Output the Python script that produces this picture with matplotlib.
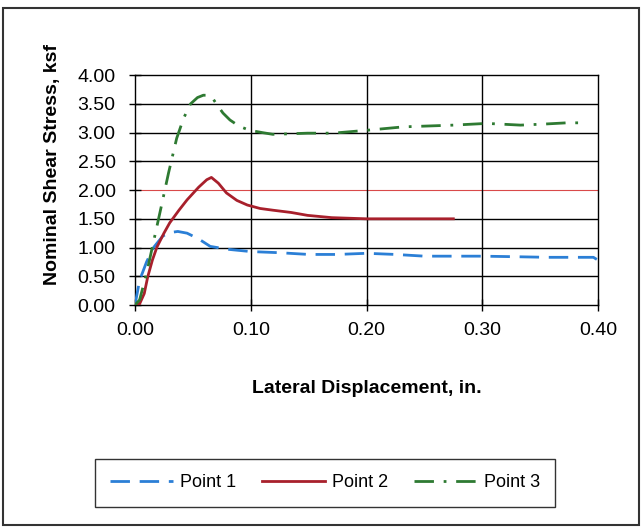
import numpy as np
import matplotlib
matplotlib.use("Agg")
import matplotlib.pyplot as plt
from matplotlib.patches import Rectangle

plt.rcParams['font.family'] = ['Liberation Sans', 'DejaVu Sans']

# Point 1 (blue dashed)
p1_x = [0.0, 0.004, 0.010, 0.016, 0.024, 0.030, 0.037, 0.045, 0.055, 0.065,
        0.080, 0.100, 0.125, 0.150, 0.175, 0.200, 0.225, 0.250, 0.275, 0.300,
        0.330, 0.356, 0.380, 0.396, 0.400]
p1_y = [0.0, 0.43, 0.75, 1.00, 1.20, 1.26, 1.28, 1.25, 1.15, 1.02,
        0.97, 0.93, 0.91, 0.88, 0.88, 0.90, 0.88, 0.85, 0.85, 0.85,
        0.84, 0.83, 0.83, 0.83, 0.78]

# Point 2 (red solid)
p2_x = [0.0, 0.004, 0.008, 0.011, 0.015, 0.019, 0.025, 0.030, 0.038, 0.045,
        0.055, 0.062, 0.066, 0.072, 0.079, 0.088, 0.097, 0.108, 0.119, 0.135,
        0.149, 0.170, 0.200, 0.240, 0.275]
p2_y = [0.0, 0.02, 0.20, 0.49, 0.78, 1.01, 1.25, 1.43, 1.65, 1.83,
        2.05, 2.18, 2.22, 2.12, 1.95, 1.82, 1.74, 1.68, 1.65, 1.61,
        1.56, 1.52, 1.50, 1.50, 1.50]

# Point 3 (green dash-dot)
p3_x = [0.0, 0.004, 0.010, 0.016, 0.022, 0.029, 0.036, 0.042, 0.048, 0.054,
        0.059, 0.063, 0.067, 0.071, 0.076, 0.082, 0.090, 0.099, 0.110, 0.119,
        0.135, 0.149, 0.171, 0.200, 0.232, 0.275, 0.304, 0.333, 0.355, 0.373,
        0.385]
p3_y = [0.0, 0.09, 0.55, 1.10, 1.65, 2.30, 2.90, 3.25, 3.50, 3.61,
        3.65, 3.65, 3.60, 3.48, 3.34, 3.22, 3.11, 3.04, 3.00, 2.97,
        2.98, 2.99, 2.99, 3.04, 3.10, 3.13, 3.16, 3.13, 3.15, 3.17,
        3.17]

x_ticks = [0.0, 0.1, 0.2, 0.3, 0.4]
y_ticks = [0.0, 0.5, 1.0, 1.5, 2.0, 2.5, 3.0, 3.5, 4.0]

fig = plt.figure(figsize=(6.41, 5.29), dpi=100)
ax = fig.add_axes([0.2106, 0.4234, 0.7224, 0.4346])

# grid
for yv in y_ticks[1:-1]:
    col = '#d94a4a' if yv == 2.0 else 'black'
    lw = 0.8 if yv == 2.0 else 1.0
    ax.axhline(yv, color=col, linewidth=lw, zorder=1)
for xv in x_ticks[1:-1]:
    ax.axvline(xv, color='black', linewidth=1.0, zorder=1)

ax.plot(p1_x, p1_y, color='#2b7fd6', linewidth=2.0, linestyle=(0, (7, 3.5)), label='Point 1', zorder=3)
ax.plot(p2_x, p2_y, color='#a8202c', linewidth=2.0, linestyle='-', label='Point 2', zorder=3)
ax.plot(p3_x, p3_y, color='#2e7a32', linewidth=2.0, linestyle=(0, (7, 3.5, 1, 3.5)), label='Point 3', zorder=3)

ax.set_xlim(0, 0.4)
ax.set_ylim(0, 4.0)
ax.set_xticks(x_ticks)
ax.set_xticklabels(['%.2f' % v for v in x_ticks])
ax.set_yticks(y_ticks)
ax.set_yticklabels(['%.2f' % v for v in y_ticks])
ax.tick_params(direction='inout', length=8, width=1, labelsize=14, colors='black')
ax.tick_params(axis='x', pad=8)
ax.tick_params(axis='y', pad=10)
for s in ax.spines.values():
    s.set_linewidth(1.0)
    s.set_color('black')

ax.set_xlabel('Lateral Displacement, in.', fontsize=14, fontweight='bold', labelpad=30)
ax.set_ylabel('Nominal Shear Stress, ksf', fontsize=14, fontweight='bold')
ax.yaxis.set_label_coords(-0.160, 0.61)

handles, labels = ax.get_legend_handles_labels()
leg = fig.legend(handles, labels, loc='center', bbox_to_anchor=(0.507, 0.087), ncol=3,
                 fontsize=13, frameon=True, fancybox=False, edgecolor='black',
                 handlelength=3.5, columnspacing=1.4, borderpad=0.85, handletextpad=0.4)
leg.get_frame().set_linewidth(1.0)

# outer border of the chart
fig.patches.append(Rectangle((0.005, 0.007), 0.992, 0.977, transform=fig.transFigure,
                             fill=False, edgecolor='#333333', linewidth=1.5))

fig.savefig('out.png', dpi=100, facecolor='white')
